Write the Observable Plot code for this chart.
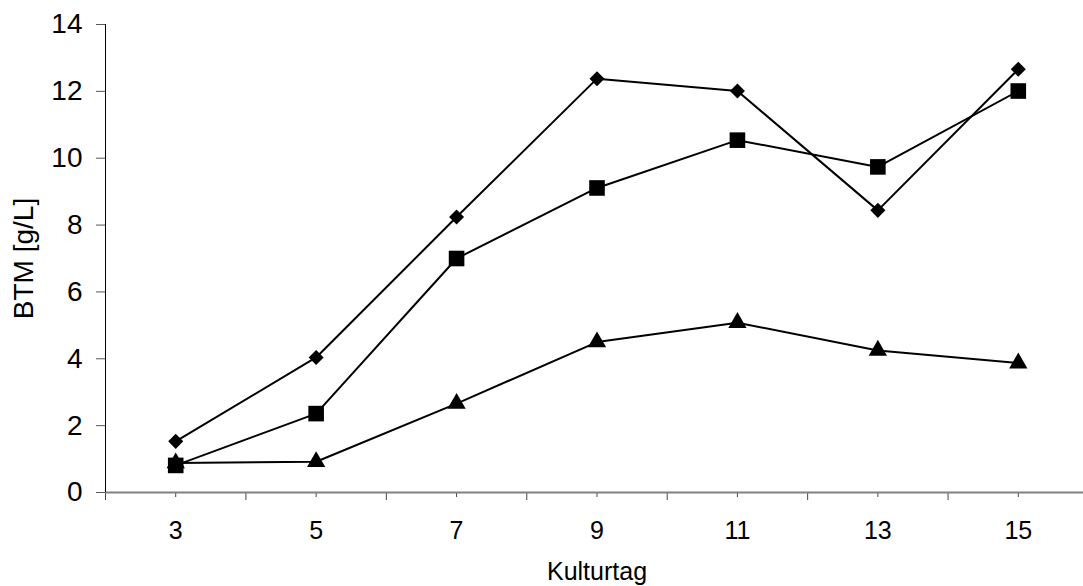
<!DOCTYPE html>
<html>
<head>
<meta charset="utf-8">
<script src="https://cdn.jsdelivr.net/npm/d3@7"></script>
<script src="https://cdn.jsdelivr.net/npm/@observablehq/plot@0.6"></script>
<style>
  html, body { margin: 0; padding: 0; background: #fff; }
  #chart svg { font-family: "Liberation Sans", Arial, sans-serif; }
</style>
</head>
<body>
<div id="chart"></div>
<script>
// Culture day (Kulturtag)
const days = [3, 5, 7, 9, 11, 13, 15];
// Dry biomass (BTM, g/L) per series
const diamondValues = [1.53, 4.04, 8.24, 12.38, 12.01, 8.44, 12.66];
const squareValues = [0.81, 2.36, 7.0, 9.11, 10.54, 9.74, 12.01];
const triangleValues = [0.88, 0.92, 2.66, 4.5, 5.08, 4.25, 3.87];
// Axis ticks
const yTicks = [0, 2, 4, 6, 8, 10, 12, 14];
const xLabelTicks = days;
const xBoundaryTicks = [2, 4, 6, 8, 10, 12, 14, 16];

const rows = (values) => days.map((d, i) => ({day: d, btm: values[i]}));
const diamond = rows(diamondValues);
const square = rows(squareValues);
const triangle = rows(triangleValues);

const lineStyle = {x: "day", y: "btm", stroke: "black", strokeWidth: 2};

const chart = Plot.plot({
  width: 1083,
  height: 586,
  marginLeft: 105,
  marginRight: -5,
  marginTop: 24,
  marginBottom: 94,
  style: {fontFamily: "'Liberation Sans', Arial, sans-serif", color: "black", overflow: "visible"},
  x: {type: "linear", domain: [2, 16]},
  y: {domain: [0, 14]},
  marks: [
    Plot.axisY({ticks: yTicks, tickSize: 9, tickPadding: 14, fontSize: 28, stroke: "#555",
      label: "BTM [g/L]", labelAnchor: "center", labelOffset: 92, labelArrow: "none"}),
    Plot.axisX({ticks: xBoundaryTicks, tickSize: 8, stroke: "#444", tickFormat: () => "", label: null}),
    Plot.axisX({ticks: xLabelTicks, tickSize: 5, tickPadding: 24, stroke: "#444", fontSize: 25,
      tickFormat: d => String(d), label: "Kulturtag", labelAnchor: "center", labelOffset: 87, labelArrow: "none"}),
    Plot.ruleY([0], {stroke: "#808080", strokeWidth: 2}),
    Plot.ruleX([2], {stroke: "black", strokeWidth: 1}),
    Plot.line(triangle, lineStyle),
    Plot.dot(triangle, {x: "day", y: "btm", symbol: "triangle", r: 6.8, fill: "black"}),
    Plot.line(square, lineStyle),
    Plot.dot(square, {x: "day", y: "btm", symbol: "square", r: 8.8, fill: "black"}),
    Plot.line(diamond, lineStyle),
    Plot.dot(diamond, {x: "day", y: "btm", symbol: "square", rotate: 45, r: 6, fill: "black"})
  ]
});
document.getElementById("chart").appendChild(chart);
</script>
</body>
</html>
